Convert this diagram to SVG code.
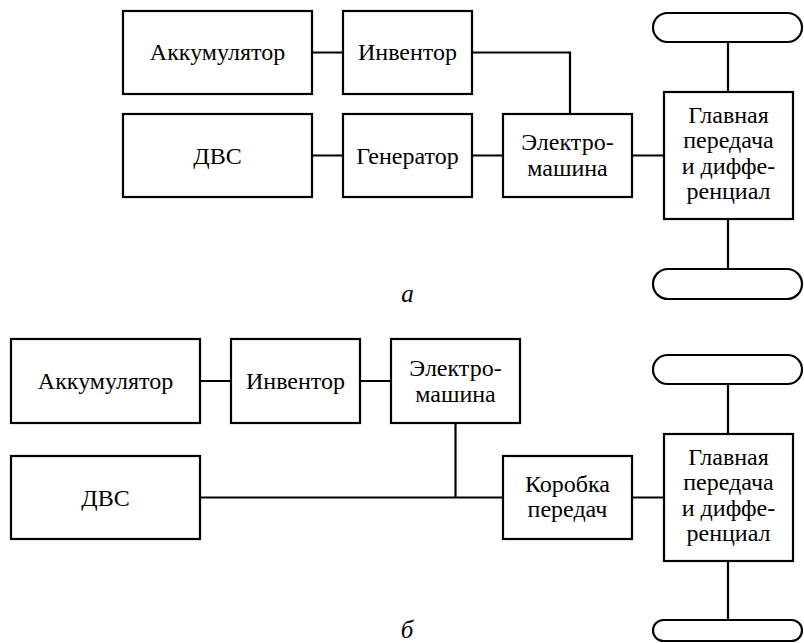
<svg xmlns="http://www.w3.org/2000/svg" width="804" height="643" viewBox="0 0 804 643">
<rect width="804" height="643" fill="#fff"/>
<g id="connectors" fill="none" stroke="#000" stroke-width="2.2">
<path d="M312 52.5H343M472 52.5H570V114M312 155.5H343M472 155.5H503M632 155.5H664M728 42V92M728 219V269"/>
<path d="M200 381H231M360 381H391M200 497.5H503M455.5 423V497.5M632 497.5H664M728 384V434M728 561V620"/>
</g>
<g fill="#fff" stroke="#000" stroke-width="2.2">
<g id="a-akk"><rect x="123" y="11" width="189" height="83"/></g>
<g id="a-inv"><rect x="343" y="11" width="129" height="83"/></g>
<g id="a-dvs"><rect x="123" y="114" width="189" height="83"/></g>
<g id="a-gen"><rect x="343" y="114" width="129" height="83"/></g>
<g id="a-em"><rect x="503" y="114" width="129" height="83"/></g>
<g id="a-gp"><rect x="664" y="92" width="129" height="127"/></g>
<g id="a-wheel-top"><rect x="653" y="13" width="149" height="29" rx="14.5"/></g>
<g id="a-wheel-bot"><rect x="653" y="269" width="149" height="30" rx="15"/></g>
<g id="b-akk"><rect x="11" y="339" width="189" height="84"/></g>
<g id="b-inv"><rect x="231" y="339" width="129" height="84"/></g>
<g id="b-em"><rect x="391" y="339" width="129" height="84"/></g>
<g id="b-dvs"><rect x="11" y="456" width="189" height="83"/></g>
<g id="b-kp"><rect x="503" y="456" width="129" height="83"/></g>
<g id="b-gp"><rect x="664" y="434" width="129" height="127"/></g>
<g id="b-wheel-top"><rect x="653" y="355" width="149" height="29" rx="14.5"/></g>
<g id="b-wheel-bot"><rect x="653" y="620" width="149" height="21" rx="10.5"/></g>
</g>
<g id="labels" fill="#000" text-anchor="middle" transform="scale(0.6)">
<text font-family="Liberation Serif" font-size="40" x="362.5" y="100.83">Аккумулятор</text>
<text font-family="Liberation Serif" font-size="40" x="679.17" y="100.83">Инвентор</text>
<text font-family="Liberation Serif" font-size="40" x="362.5" y="272.5">ДВС</text>
<text font-family="Liberation Serif" font-size="40" x="679.17" y="272.5">Генератор</text>
<text font-family="Liberation Serif" font-size="40" x="945.83" y="250.83">Электро-</text>
<text font-family="Liberation Serif" font-size="40" x="945.83" y="293.33">машина</text>
<text font-family="Liberation Serif" font-size="40" x="1214.17" y="204.17">Главная</text>
<text font-family="Liberation Serif" font-size="40" x="1214.17" y="246.67">передача</text>
<text font-family="Liberation Serif" font-size="40" x="1214.17" y="289.17">и диффе-</text>
<text font-family="Liberation Serif" font-size="40" x="1214.17" y="331.67">ренциал</text>
<text font-family="Liberation Serif" font-size="41.67" font-style="italic" x="679.17" y="503.33">а</text>
<text font-family="Liberation Serif" font-size="40" x="175.83" y="648.33">Аккумулятор</text>
<text font-family="Liberation Serif" font-size="40" x="492.5" y="648.33">Инвентор</text>
<text font-family="Liberation Serif" font-size="40" x="759.17" y="626.67">Электро-</text>
<text font-family="Liberation Serif" font-size="40" x="759.17" y="669.17">машина</text>
<text font-family="Liberation Serif" font-size="40" x="175.83" y="842.5">ДВС</text>
<text font-family="Liberation Serif" font-size="40" x="945.83" y="820.83">Коробка</text>
<text font-family="Liberation Serif" font-size="40" x="945.83" y="861.67">передач</text>
<text font-family="Liberation Serif" font-size="40" x="1214.17" y="774.17">Главная</text>
<text font-family="Liberation Serif" font-size="40" x="1214.17" y="816.67">передача</text>
<text font-family="Liberation Serif" font-size="40" x="1214.17" y="859.17">и диффе-</text>
<text font-family="Liberation Serif" font-size="40" x="1214.17" y="901.67">ренциал</text>
<text font-family="Liberation Serif" font-size="41.67" font-style="italic" x="678.33" y="1063.33">б</text>
</g>
</svg>
